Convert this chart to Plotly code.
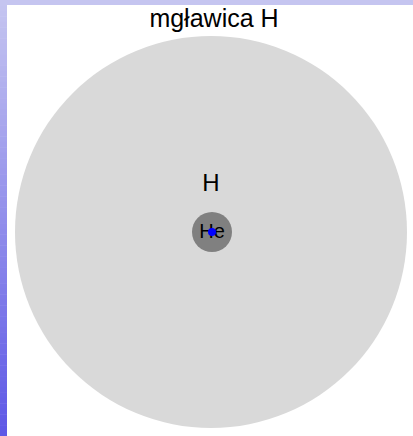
import plotly.graph_objs as go

# circle pack nodes (in pixel units of the chart area)
names = ["H", "He"]
center_x = [211, 212]
center_y = [232, 232]
radius = [196, 20]
fill_colors = ["#d9d9d9", "#808080"]
label_y = [185, 233]
label_size = [24, 20]

title = "mgławica H"
W, H = 413, 436

fig = go.Figure()

# page background gradient (left strip + top strip)
top_rgb = (197, 197, 240)
bot_rgb = (94, 88, 230)
n = 80
for i in range(n):
    t = i / (n - 1)
    c = tuple(round(a + (b - a) * t) for a, b in zip(top_rgb, bot_rgb))
    fig.add_shape(type="rect", xref="x", yref="y", x0=0, x1=7,
                  y0=H * i / n, y1=H * (i + 1) / n + 0.5,
                  fillcolor="rgb(%d,%d,%d)" % c, line_width=0, layer="below")
fig.add_shape(type="rect", xref="x", yref="y", x0=0, x1=W, y0=0, y1=5,
              fillcolor="rgb(%d,%d,%d)" % top_rgb, line_width=0, layer="below")

for cx, cy, r, col in zip(center_x, center_y, radius, fill_colors):
    fig.add_shape(type="circle", xref="x", yref="y",
                  x0=cx - r, x1=cx + r, y0=cy - r, y1=cy + r,
                  fillcolor=col, line_width=0, layer="below")

fig.add_trace(go.Scatter(x=center_x, y=label_y, mode="text", text=names,
                         textfont=dict(size=label_size, color="black",
                                       family="Arial, Liberation Sans"),
                         hoverinfo="skip"))
fig.add_trace(go.Scatter(x=[center_x[1]], y=[center_y[1]], mode="markers",
                         marker=dict(color="#0000ff", size=8), hoverinfo="skip"))

fig.update_layout(
    width=W, height=H, autosize=False,
    margin=dict(l=0, r=0, t=0, b=0),
    paper_bgcolor="white", plot_bgcolor="white",
    showlegend=False,
    title=dict(text=title, x=214 / W, xanchor="center", y=1 - 18 / H, yanchor="middle",
               font=dict(size=25, color="black", family="Arial, Liberation Sans")),
    xaxis=dict(range=[0, W], visible=False, fixedrange=True),
    yaxis=dict(range=[H, 0], visible=False, fixedrange=True),
)

fig.write_html("out.html", config={"displayModeBar": False},
               post_script="document.body.style.margin='0';document.body.style.overflow='hidden';")
